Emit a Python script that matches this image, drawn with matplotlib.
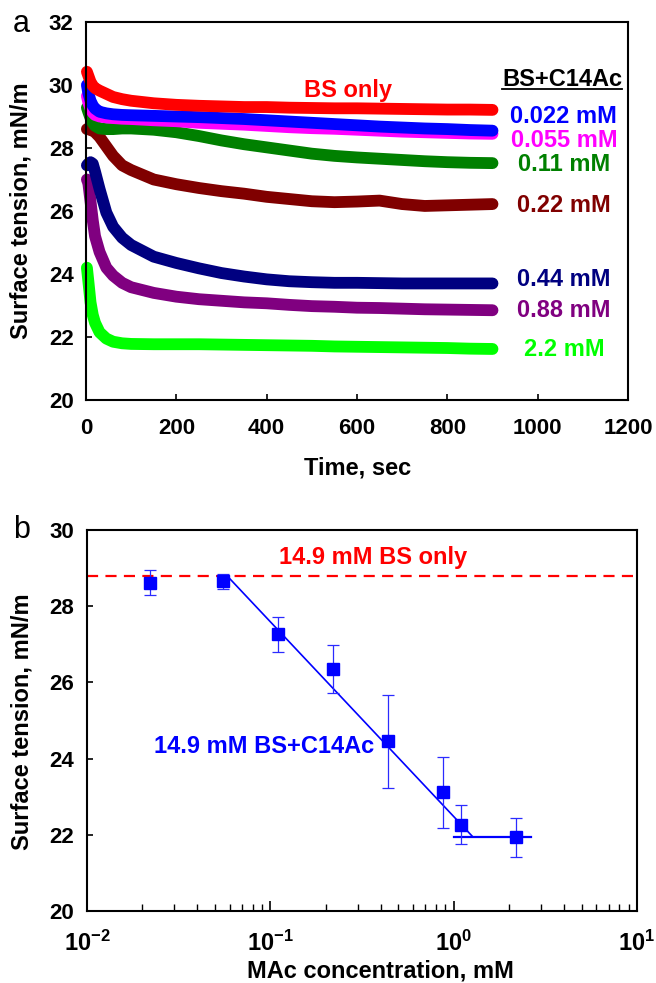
import matplotlib.pyplot as plt
import numpy as np
from matplotlib.ticker import LogLocator, LogFormatterSciNotation, NullFormatter

plt.rcParams['font.family'] = ['Liberation Sans', 'DejaVu Sans']
plt.rcParams['font.weight'] = 'bold'
plt.rcParams['mathtext.fontset'] = 'custom'
plt.rcParams['mathtext.rm'] = 'Liberation Sans:bold'
plt.rcParams['mathtext.default'] = 'rm'

# (a) dynamic surface tension, mN/m, vs time in seconds
time_s = [2, 5, 10, 15, 20, 30, 45, 60, 80, 100, 150, 200, 250, 300, 350,
          400, 450, 500, 550, 600, 650, 700, 750, 800, 850, 900]
st_bs_only = [30.42, 30.30, 30.10, 29.98, 29.90, 29.82, 29.72, 29.62, 29.55, 29.50, 29.42, 29.37, 29.34,
              29.32, 29.30, 29.30, 29.28, 29.27, 29.26, 29.26, 29.25, 29.24, 29.23, 29.22, 29.22, 29.21]
st_0022 = [30.00, 29.75, 29.50, 29.35, 29.25, 29.15, 29.10, 29.07, 29.05, 29.04, 29.02, 29.00, 28.98,
           28.95, 28.92, 28.88, 28.84, 28.80, 28.76, 28.72, 28.68, 28.65, 28.62, 28.60, 28.57, 28.55]
st_0055 = [29.65, 29.45, 29.25, 29.12, 29.05, 29.00, 28.97, 28.95, 28.93, 28.92, 28.88, 28.85, 28.80,
           28.77, 28.74, 28.70, 28.66, 28.63, 28.61, 28.58, 28.55, 28.52, 28.50, 28.48, 28.46, 28.45]
st_011 = [29.28, 29.15, 28.95, 28.80, 28.70, 28.62, 28.60, 28.60, 28.62, 28.62, 28.58, 28.50, 28.38,
          28.24, 28.12, 28.02, 27.92, 27.82, 27.75, 27.70, 27.66, 27.62, 27.58, 27.55, 27.53, 27.52]
st_022 = [28.60, 28.60, 28.57, 28.55, 28.50, 28.35, 28.05, 27.75, 27.45, 27.30, 27.00, 26.85, 26.73,
          26.63, 26.55, 26.45, 26.38, 26.31, 26.28, 26.30, 26.33, 26.22, 26.16, 26.18, 26.20, 26.22]
st_044 = [27.45, 27.50, 27.55, 27.50, 27.25, 26.70, 25.95, 25.50, 25.15, 24.92, 24.55, 24.35, 24.18,
          24.03, 23.92, 23.83, 23.77, 23.74, 23.72, 23.72, 23.71, 23.70, 23.70, 23.70, 23.70, 23.70]
st_088 = [27.00, 26.90, 26.30, 25.70, 25.20, 24.70, 24.20, 23.95, 23.72, 23.58, 23.40, 23.28, 23.20,
          23.15, 23.10, 23.07, 23.02, 22.98, 22.96, 22.93, 22.92, 22.90, 22.88, 22.87, 22.86, 22.85]
st_22 = [24.20, 23.80, 23.10, 22.70, 22.45, 22.15, 21.95, 21.85, 21.80, 21.78, 21.77, 21.77, 21.77,
         21.76, 21.75, 21.74, 21.73, 21.72, 21.70, 21.69, 21.68, 21.67, 21.66, 21.65, 21.63, 21.62]

curve_labels = ['0.022 mM', '0.055 mM', '0.11 mM', '0.22 mM', '0.44 mM', '0.88 mM', '2.2 mM']
curve_colors = ['#0000ff', '#ff00ff', '#008000', '#800000', '#000080', '#800080', '#00ff00']
curve_label_y = [28.99, 28.25, 27.49, 26.19, 23.84, 22.83, 21.59]

# (b) equilibrium surface tension vs C14Ac concentration
conc_mM = [0.022, 0.055, 0.11, 0.22, 0.44, 0.88, 1.1, 2.2]
st_mean = [28.62, 28.65, 27.26, 26.36, 24.45, 23.12, 22.27, 21.93]
st_err = [0.33, 0.20, 0.45, 0.63, 1.21, 0.93, 0.50, 0.50]
bs_only_level = 28.8
fit_x = [0.0588, 1.27]
fit_y = [28.77, 21.95]
plateau_x = [1.0, 2.64]
plateau_y = [21.95, 21.95]

W, H = 656, 983
fig = plt.figure(figsize=(W / 100, H / 100), dpi=100)


def fx(px):
    return px / W


def fy(py):
    return 1 - py / H


ax1 = fig.add_axes([fx(86), fy(400), (628 - 86) / W, (400 - 22) / H])
ax2 = fig.add_axes([fx(87), fy(911), (637 - 87) / W, (911 - 530) / H])

# ---- panel a ----
series = [st_22, st_088, st_044, st_022, st_011, st_0055, st_0022]
colors_rev = curve_colors[::-1]
for vals, c in zip(series, colors_rev):
    ax1.plot(time_s, vals, color=c, lw=8.5, solid_capstyle='round', solid_joinstyle='round', clip_on=False)
ax1.plot(time_s, st_bs_only, color='#ff0000', lw=8.5, solid_capstyle='round', solid_joinstyle='round',
         clip_on=False)

ax1.set_xlim(0, 1200)
ax1.set_ylim(20, 32)
ax1.set_xticks(np.arange(0, 1201, 200))
ax1.set_yticks(np.arange(20, 33, 2))
ax1.tick_params(axis='x', direction='in', length=4, width=1.2, labelsize=16, pad=13)
ax1.tick_params(axis='y', direction='in', length=4, width=1.2, labelsize=16, pad=9)
for s in ax1.spines.values():
    s.set_linewidth(1.5)

ax1.text(580, 29.84, 'BS only', color='#ff0000', fontsize=17, ha='center', va='center')
ax1.text(1054, 30.16, 'BS+C14Ac', color='black', fontsize=17, ha='center', va='center', clip_on=False)
ax1.plot([921, 1187], [29.87, 29.87], color='black', lw=1.3, clip_on=False)
for lab, c, y in zip(curve_labels, curve_colors, curve_label_y):
    ax1.text(1058, y, lab, color=c, fontsize=17, ha='center', va='center', clip_on=False)

fig.text(fx(21), fy(211), 'Surface tension, mN/m', rotation=90, fontsize=17, ha='center', va='center')
fig.text(fx(358), fy(468), 'Time, sec', fontsize=17, ha='center', va='center')
fig.text(fx(21), fy(24), 'a', fontsize=22, fontweight='normal', ha='center', va='center')

# ---- panel b ----
ax2.axhline(bs_only_level, color='#ff0000', lw=1.6, dashes=(5, 3.3))
ax2.plot(fit_x, fit_y, color='#0000ff', lw=1.2)
ax2.plot(plateau_x, plateau_y, color='#0000ff', lw=1.6)
ax2.errorbar(conc_mM, st_mean, yerr=st_err, fmt='s', color='#0000ff', ecolor='#2b2bff',
             markersize=8, elinewidth=0.9, capsize=4.5, capthick=0.9)

ax2.set_xscale('log')
ax2.set_xlim(0.01, 10)
ax2.set_ylim(20, 30)
ax2.set_yticks(np.arange(20, 31, 2))
ax2.xaxis.set_major_locator(LogLocator(base=10))
ax2.xaxis.set_major_formatter(LogFormatterSciNotation())
ax2.xaxis.set_minor_locator(LogLocator(base=10, subs=np.arange(2, 10)))
ax2.xaxis.set_minor_formatter(NullFormatter())
ax2.tick_params(axis='x', which='major', direction='in', length=7, width=1.2, labelsize=17, pad=14)
ax2.tick_params(axis='x', which='minor', direction='in', length=5, width=1.0)
ax2.tick_params(axis='y', direction='in', length=4, width=1.2, labelsize=16, pad=9)
for s in ax2.spines.values():
    s.set_linewidth(1.5)

ax2.text(0.363, 29.29, '14.9 mM BS only', color='#ff0000', fontsize=17, ha='center', va='center')
ax2.text(0.0232, 24.31, '14.9 mM BS+C14Ac', color='#0000ff', fontsize=17, ha='left', va='center')

fig.text(fx(22), fy(722), 'Surface tension, mN/m', rotation=90, fontsize=17, ha='center', va='center')
fig.text(fx(380), fy(971), 'MAc concentration, mM', fontsize=17, ha='center', va='center')
fig.text(fx(22), fy(530), 'b', fontsize=22, fontweight='normal', ha='center', va='center')

fig.savefig('out.png', dpi=100)
